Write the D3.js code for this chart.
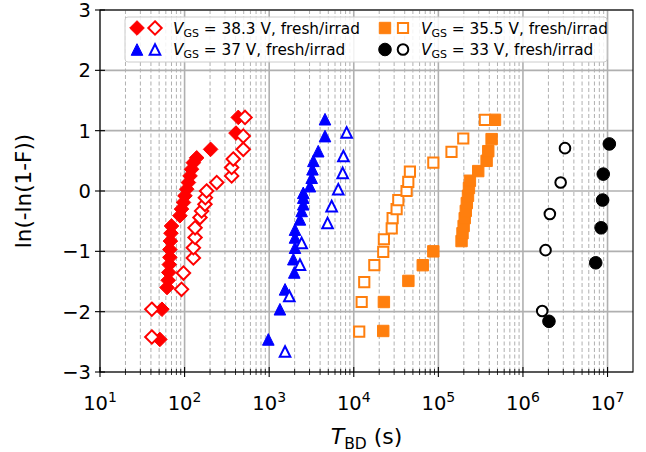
<!DOCTYPE html>
<html>
<head>
<meta charset="utf-8">
<script src="https://cdn.jsdelivr.net/npm/d3@7/dist/d3.min.js"></script>
<style>
  body { margin: 0; background: #fff; }
  text { font-family: "DejaVu Sans", sans-serif; fill: #000; }
</style>
</head>
<body>
<svg id="chart"></svg>
<script>
// ---- data ----
const tFresh383 = [51, 54, 62, 64, 65, 66, 67, 67, 68, 69, 70, 88, 92, 97, 101, 106, 111, 116, 121, 127, 139, 203, 405, 431];
const yFresh383 = [-2.46, -1.96, -1.60, -1.48, -1.35, -1.22, -1.10, -0.97, -0.83, -0.70, -0.58, -0.41, -0.30, -0.19, -0.08, 0.03, 0.14, 0.25, 0.36, 0.47, 0.55, 0.69, 0.96, 1.22];
const tIrrad383 = [41, 41, 92, 97, 127, 127, 133, 133, 152, 159, 174, 176, 182, 240, 360, 360, 376, 494, 494, 518];
const yIrrad383 = [-2.42, -1.96, -1.63, -1.36, -1.11, -0.94, -0.77, -0.61, -0.44, -0.33, -0.22, -0.11, 0.00, 0.14, 0.25, 0.39, 0.53, 0.69, 0.91, 1.22];

const tFresh37 = [977, 1340, 1540, 1980, 1930, 2020, 2020, 2020, 2310, 2420, 2530, 2530, 2530, 3030, 3180, 3250, 3330, 3800, 4570, 4570];
const yFresh37 = [-2.46, -1.96, -1.63, -1.35, -1.13, -0.94, -0.77, -0.64, -0.47, -0.33, -0.22, -0.11, -0.03, 0.08, 0.22, 0.36, 0.50, 0.66, 0.91, 1.19];
const tIrrad37 = [1540, 1730, 2310, 2420, 4900, 5480, 6560, 7400, 7540, 8240];
const yIrrad37 = [-2.66, -1.74, -1.22, -0.86, -0.53, -0.25, 0.03, 0.30, 0.58, 0.97];

const tFresh355 = [22300, 22700, 44200, 65400, 87200, 188000, 193000, 199000, 205000, 211000, 217000, 224000, 230000, 236000, 296000, 372000, 389000, 426000, 467000];
const yFresh355 = [-2.32, -1.84, -1.49, -1.23, -1.00, -0.83, -0.70, -0.58, -0.45, -0.33, -0.20, -0.08, 0.05, 0.17, 0.33, 0.50, 0.66, 0.86, 1.18];
const tIrrad355 = [11600, 12400, 13300, 17500, 22300, 22700, 28100, 28800, 32100, 33600, 42100, 44100, 46100, 87200, 143000, 197000, 355000];
const yIrrad355 = [-2.33, -1.84, -1.51, -1.23, -1.01, -0.80, -0.62, -0.45, -0.30, -0.15, 0.00, 0.15, 0.32, 0.47, 0.65, 0.87, 1.18];

const tFresh33 = [2.03e6, 7.25e6, 8.4e6, 8.75e6, 8.9e6, 1.05e7];
const yFresh33 = [-2.16, -1.19, -0.61, -0.15, 0.28, 0.78];
const tIrrad33 = [1.69e6, 1.85e6, 2.08e6, 2.79e6, 3.14e6];
const yIrrad33 = [-1.99, -0.98, -0.38, 0.14, 0.71];

const yTicks = [-3, -2, -1, 0, 1, 2, 3];
const xDecades = [1, 2, 3, 4, 5, 6, 7];

const legendRows = [
  { shape: 'diamond', color: '#ff0000', vgs: '38.3' },
  { shape: 'triangle', color: '#0000ff', vgs: '37' },
  { shape: 'square', color: '#ff7f0e', vgs: '35.5' },
  { shape: 'circle', color: '#000000', vgs: '33' }
];

// ---- setup ----
const w = 646, h = 452;
const pLeft = 100, pRight = 633, pTop = 10, pBottom = 372;

const svg = d3.select('#chart')
  .attr('width', w)
  .attr('height', h);

const xScale = d3.scaleLog().domain([10, 2e7]).range([pLeft, pRight]);
const yScale = d3.scaleLinear().domain([-3, 3]).range([pBottom, pTop]);

// marker outlines, centred on 0,0
function markerPath(shape, r) {
  const p = d3.path();
  if (shape === 'diamond') {
    p.moveTo(0, -r); p.lineTo(r, 0); p.lineTo(0, r); p.lineTo(-r, 0); p.closePath();
  } else if (shape === 'triangle') {
    p.moveTo(0, -r); p.lineTo(r, r); p.lineTo(-r, r); p.closePath();
  } else if (shape === 'square') {
    p.rect(-r, -r, 2 * r, 2 * r);
  } else {
    p.arc(0, 0, r, 0, 2 * Math.PI);
  }
  return p.toString();
}
const sizes = {
  diamond: { filled: 7.3, hollow: 6.7 },
  triangle: { filled: 5.8, hollow: 5.3 },
  square: { filled: 5.7, hollow: 5.1 },
  circle: { filled: 6.3, hollow: 5.3 }
};

// ---- grid ----
const minorX = [];
for (let k = 1; k <= 7; k++) {
  for (let m = 2; m <= 9; m++) {
    const v = m * Math.pow(10, k);
    if (v < 2e7) minorX.push(v);
  }
}
const grid = svg.append('g');
grid.selectAll('.minor')
  .data(minorX)
  .join('line')
    .attr('x1', d => xScale(d)).attr('x2', d => xScale(d))
    .attr('y1', pTop).attr('y2', pBottom)
    .attr('stroke', '#b0b0b0')
    .attr('stroke-width', 1)
    .attr('stroke-dasharray', '4,2.5');
grid.selectAll('.majx')
  .data(xDecades.map(k => Math.pow(10, k)))
  .join('line')
    .attr('x1', d => xScale(d)).attr('x2', d => xScale(d))
    .attr('y1', pTop).attr('y2', pBottom)
    .attr('stroke', '#b0b0b0')
    .attr('stroke-width', 1.6);
grid.selectAll('.majy')
  .data(yTicks)
  .join('line')
    .attr('x1', pLeft).attr('x2', pRight)
    .attr('y1', d => yScale(d)).attr('y2', d => yScale(d))
    .attr('stroke', '#b0b0b0')
    .attr('stroke-width', 1.6);

// ---- points ----
function drawSeries(ts, ys, shape, color, hollow) {
  const pts = ts.map((t, i) => [t, ys[i]]);
  const r = hollow ? sizes[shape].hollow : sizes[shape].filled;
  svg.append('g').selectAll('path')
    .data(pts)
    .join('path')
      .attr('d', markerPath(shape, r))
      .attr('transform', d => `translate(${xScale(d[0])},${yScale(d[1])})`)
      .attr('fill', hollow ? '#fff' : color)
      .attr('stroke', color)
      .attr('stroke-width', hollow ? 2 : 1)
      .attr('stroke-linejoin', 'miter');
}
drawSeries(tFresh383, yFresh383, 'diamond', '#ff0000', false);
drawSeries(tIrrad383, yIrrad383, 'diamond', '#ff0000', true);
drawSeries(tFresh37, yFresh37, 'triangle', '#0000ff', false);
drawSeries(tIrrad37, yIrrad37, 'triangle', '#0000ff', true);
drawSeries(tFresh355, yFresh355, 'square', '#ff7f0e', false);
drawSeries(tIrrad355, yIrrad355, 'square', '#ff7f0e', true);
drawSeries(tIrrad33, yIrrad33, 'circle', '#000000', true);
drawSeries(tFresh33, yFresh33, 'circle', '#000000', false);

// ---- axes ----
const xAxis = d3.axisBottom(xScale)
  .tickValues(xDecades.map(k => Math.pow(10, k)))
  .tickSize(0)
  .tickFormat('');
svg.append('g').attr('transform', `translate(0,${pBottom})`).call(xAxis)
  .call(g => g.select('.domain').remove());

// inout tick marks
const ticks = svg.append('g').attr('stroke', '#000');
ticks.selectAll('.xt')
  .data(xDecades.map(k => Math.pow(10, k)))
  .join('line')
    .attr('x1', d => xScale(d)).attr('x2', d => xScale(d))
    .attr('y1', pBottom - 5).attr('y2', pBottom + 5)
    .attr('stroke-width', 1.1);
ticks.selectAll('.xm')
  .data(minorX)
  .join('line')
    .attr('x1', d => xScale(d)).attr('x2', d => xScale(d))
    .attr('y1', pBottom - 3).attr('y2', pBottom + 3)
    .attr('stroke-width', 0.8);
ticks.selectAll('.yt')
  .data(yTicks)
  .join('line')
    .attr('x1', pLeft - 5).attr('x2', pLeft + 5)
    .attr('y1', d => yScale(d)).attr('y2', d => yScale(d))
    .attr('stroke-width', 1.1);

// frame
svg.append('rect')
  .attr('x', pLeft).attr('y', pTop)
  .attr('width', pRight - pLeft).attr('height', pBottom - pTop)
  .attr('fill', 'none').attr('stroke', '#000').attr('stroke-width', 1.1);

// tick labels
svg.append('g').selectAll('text')
  .data(yTicks)
  .join('text')
    .attr('x', pLeft - 9)
    .attr('y', d => yScale(d))
    .attr('dy', '0.36em')
    .attr('text-anchor', 'end')
    .style('font-size', '19.5px')
    .text(d => d < 0 ? '\u2212' + Math.abs(d) : d);

const xl = svg.append('g').selectAll('text')
  .data(xDecades)
  .join('text')
    .attr('x', d => xScale(Math.pow(10, d)))
    .attr('y', pBottom + 38)
    .attr('text-anchor', 'middle')
    .style('font-size', '19.5px');
xl.append('tspan').text('10');
xl.append('tspan').attr('dy', -8).style('font-size', '14px').text(d => d);

// axis titles
const xt = svg.append('text')
  .attr('x', (pLeft + pRight) / 2)
  .attr('y', pBottom + 72)
  .attr('text-anchor', 'middle')
  .style('font-size', '22px');
xt.append('tspan').style('font-style', 'italic').text('T');
xt.append('tspan').attr('dy', 4.5).style('font-size', '15.5px').text('BD');
xt.append('tspan').attr('dy', -4.5).text(' (s)');

svg.append('text')
  .attr('transform', `translate(31,${(pTop + pBottom) / 2}) rotate(-90)`)
  .attr('text-anchor', 'middle')
  .style('font-size', '21.5px')
  .text('ln(-ln(1-F))');

// ---- legend ----
const lg = svg.append('g');
lg.append('rect')
  .attr('x', 125).attr('y', 17)
  .attr('width', 482).attr('height', 45)
  .attr('rx', 3)
  .attr('fill', '#fff').attr('fill-opacity', 0.85)
  .attr('stroke', '#cccccc').attr('stroke-width', 1);

legendRows.forEach((row, i) => {
  const col = Math.floor(i / 2), rIdx = i % 2;
  const mx = col === 0 ? 137 : 385;
  const ty = 28 + rIdx * 21.5;
  [false, true].forEach((hollow, j) => {
    const r = hollow ? sizes[row.shape].hollow : sizes[row.shape].filled;
    lg.append('path')
      .attr('d', markerPath(row.shape, r))
      .attr('transform', `translate(${mx + j * 18},${ty})`)
      .attr('fill', hollow ? '#fff' : row.color)
      .attr('stroke', row.color)
      .attr('stroke-width', hollow ? 2 : 1);
  });
  const t = lg.append('text')
    .attr('x', mx + 36)
    .attr('y', ty + 5.5)
    .style('font-size', '15.3px');
  t.append('tspan').style('font-style', 'italic').text('V');
  t.append('tspan').attr('dy', 3).style('font-size', '11px').text('GS');
  t.append('tspan').attr('dy', -3).text(` = ${row.vgs} V, fresh/irrad`);
});
</script>
</body>
</html>
